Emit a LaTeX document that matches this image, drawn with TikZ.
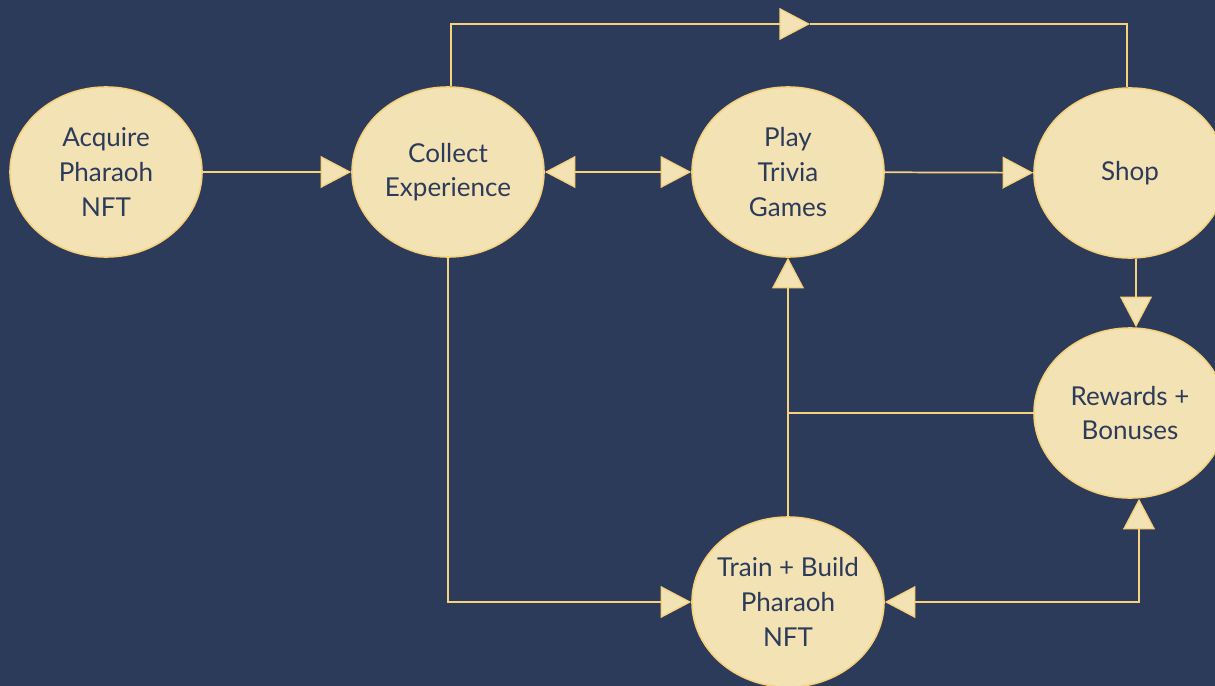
\documentclass[tikz,border=0pt]{standalone}
\usepackage{fontspec}
\setmainfont{Lato}
\usetikzlibrary{arrows.meta,shapes.geometric}
\definecolor{bgnavy}{RGB}{45,59,90}
\definecolor{nodefill}{RGB}{242,226,180}
\definecolor{gold}{RGB}{247,210,126}
\tikzset{
  stage/.style={ellipse, draw=gold, line width=1.2pt, fill=nodefill,
    minimum width=144pt, minimum height=127.5pt, inner xsep=-8pt, inner ysep=0pt,
    align=center, text=bgnavy, font=\fontsize{19.5}{26}\selectfont},
  link/.style={draw=gold, line width=1.3pt},
  tip/.tip={Triangle[length=23pt,width=24pt,fill=nodefill,line width=1pt]},
  arr/.style={link,-tip},
  darr/.style={link,tip-tip}
}
\begin{document}
\begin{tikzpicture}[x=0.75pt,y=-0.75pt]
\fill[bgnavy] (0,0) rectangle (1215,686);
\useasboundingbox (0,0) rectangle (1215,686);

\node[stage] (acq) at (106,172) {Acquire\\Pharaoh\\NFT};
\node[stage] (col) at (448,172) {Collect\\Experience};
\node[stage] (play) at (788,172) {Play\\Trivia\\Games};
\node[stage] (shop) at (1130,173) {Shop};
\node[stage] (rew) at (1130,413) {Rewards +\\Bonuses};
\node[stage] (train) at (788,602) {Train + Build\\Pharaoh\\NFT};

\coordinate (topmid) at (810,24);

\draw[arr] (acq) -- (col);
\draw[darr] (col) -- (play);
\draw[arr] (play) -- (shop);
\draw[arr] ([xshift=2.25pt]col.north) |- (topmid);
\draw[link] (topmid) -| ([xshift=-2.25pt]shop.north);
\draw[arr] ([xshift=4.5pt]shop.south) -- ([xshift=4.5pt]rew.north);
\draw[arr] (train.north) -- (play.south);
\draw[link] (rew.west) -- (rew.west -| train.north);
\draw[arr] (col.south) |- (train.west);
\draw[darr] (train.east) -| ([xshift=6.75pt]rew.south);
\end{tikzpicture}
\end{document}
